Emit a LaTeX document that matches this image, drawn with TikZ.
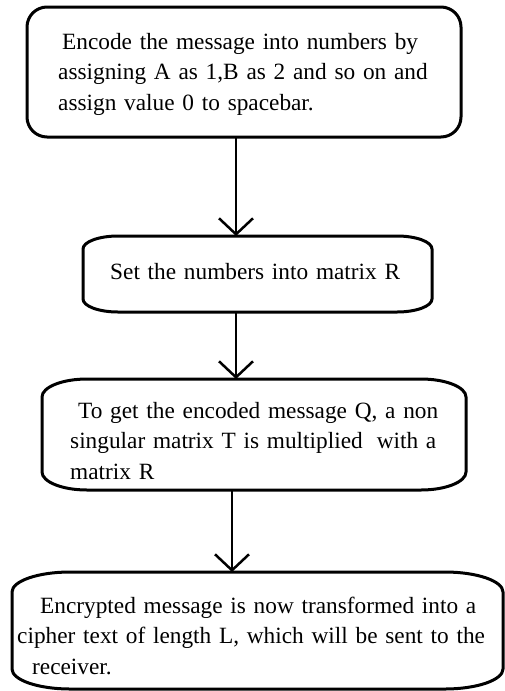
\documentclass[tikz,border=0pt]{standalone}
\usepackage{fontspec}
\setmainfont{Liberation Serif}
\usetikzlibrary{arrows.meta}

% Text face of the flow boxes, with slightly tight word spacing
\newcommand\flowfont{\fontsize{23.3}{30.5}\selectfont\spaceskip=5.2pt plus 1pt minus 1pt\relax}

% Outline of a flow box: straight edges joined by elliptical corners
% #1 node name, #2 horizontal corner radius, #3 vertical corner radius
\newcommand\flowoutline[3]{%
  \draw[boxline]
    ([xshift=#2]#1.north west) -- ([xshift=-#2]#1.north east)
    .. controls ([xshift=-0.45*#2]#1.north east) and ([yshift=-0.45*#3]#1.north east) .. ([yshift=-#3]#1.north east)
    -- ([yshift=#3]#1.south east)
    .. controls ([yshift=0.45*#3]#1.south east) and ([xshift=-0.45*#2]#1.south east) .. ([xshift=-#2]#1.south east)
    -- ([xshift=#2]#1.south west)
    .. controls ([xshift=0.45*#2]#1.south west) and ([yshift=0.45*#3]#1.south west) .. ([yshift=#3]#1.south west)
    -- ([yshift=-#3]#1.north west)
    .. controls ([yshift=-0.45*#3]#1.north west) and ([xshift=0.45*#2]#1.north west) .. ([xshift=#2]#1.north west)
    -- cycle;
}

\begin{document}
\begin{tikzpicture}[x=1pt,y=-1pt,
  frame/.style={rectangle,draw=none,inner sep=0pt,outer sep=0pt,anchor=north west},
  boxline/.style={line width=3pt,black,line join=round},
  flowtext/.style={anchor=base west,inner sep=0pt,align=left,text width=490pt,
    font=\flowfont},
  flowarrow/.style={line width=2.5pt,black,
    -{Straight Barb[length=16pt,width=34pt,line width=2.5pt]}}]

\useasboundingbox (0,0) rectangle (504,691);

% box frames
\node[frame,minimum width=434pt,minimum height=130pt] (b1) at (27,7) {};
\node[frame,minimum width=349pt,minimum height=76pt] (b2) at (83,236) {};
\node[frame,minimum width=424pt,minimum height=111pt] (b3) at (42,379) {};
\node[frame,minimum width=491pt,minimum height=117pt] (b4) at (12,572) {};

\flowoutline{b1}{20pt}{20pt}
\flowoutline{b2}{35pt}{13pt}
\flowoutline{b3}{45pt}{18pt}
\flowoutline{b4}{58pt}{20pt}

% box texts
\node[flowtext] (t1) at (58,49)
  {\hspace*{4pt}Encode the message into numbers by\\
   assigning A as 1,B as 2 and so on and\\
   assign value 0 to spacebar.};
\node[flowtext] (t2) at (110,279) {Set the numbers into matrix R};
\node[flowtext] (t3) at (70,418)
  {\hspace*{8pt}To get the encoded message Q, a non\\
   singular matrix T is multiplied\hspace{14pt}with a\\
   matrix R};
\node[flowtext] (t4) at (17,613)
  {\hspace*{23pt}Encrypted message is now transformed into a\\
   cipher text of length L, which will be sent to the\\
   \hspace*{15pt}receiver.};

% connectors
\draw[flowarrow] ([xshift=-8pt]b1.south) -- ([xshift=-8pt]b1.south |- b2.north);
\draw[flowarrow] ([xshift=-21.5pt]b2.south) -- ([xshift=-21.5pt]b2.south |- b3.north);
\draw[flowarrow] ([xshift=-22pt]b3.south) -- ([xshift=-22pt]b3.south |- b4.north);

\end{tikzpicture}
\end{document}
